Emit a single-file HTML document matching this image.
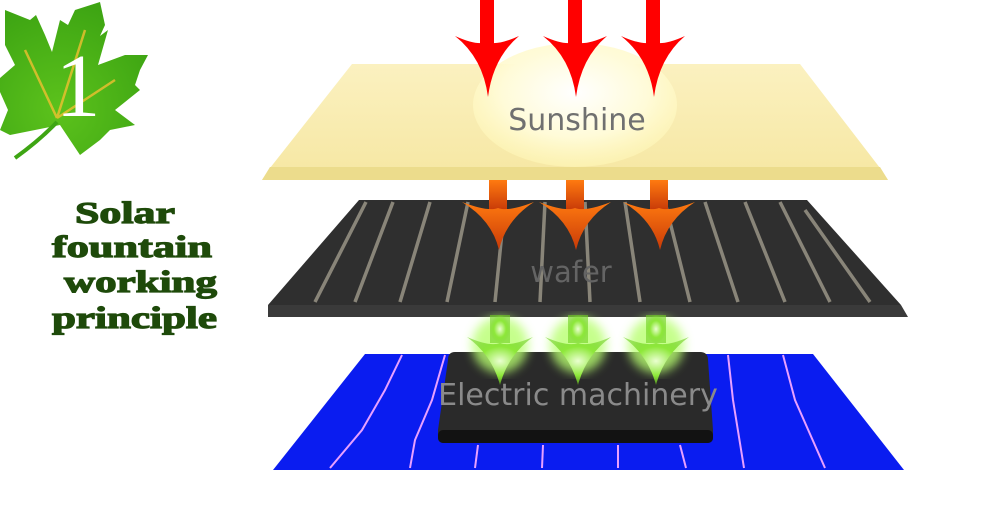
<!DOCTYPE html>
<html><head><meta charset="utf-8"><style>
html,body{margin:0;padding:0;background:#fff;}
svg{display:block}
</style></head><body>
<svg width="1000" height="512" viewBox="0 0 1000 512" xmlns="http://www.w3.org/2000/svg">
<defs>
<linearGradient id="yel" x1="0" y1="0" x2="0" y2="1"><stop offset="0" stop-color="#fbf1c0"/><stop offset="1" stop-color="#f6e7a2"/></linearGradient>
<radialGradient id="glow" cx="0.5" cy="0.4" r="0.6"><stop offset="0" stop-color="#ffffff"/><stop offset="0.6" stop-color="#fffbd8"/><stop offset="1" stop-color="#fff7b8" stop-opacity="0.6"/></radialGradient>
<linearGradient id="org" x1="0" y1="0" x2="0" y2="1"><stop offset="0" stop-color="#ff7a10"/><stop offset="1" stop-color="#c83a08"/></linearGradient>
<radialGradient id="grn" cx="0.5" cy="0.5" r="0.5"><stop offset="0" stop-color="#eaffd0"/><stop offset="0.6" stop-color="#8ee83a"/><stop offset="1" stop-color="#6fd020" stop-opacity="0.6"/></radialGradient>
<filter id="blur"><feGaussianBlur stdDeviation="5"/></filter>
<radialGradient id="leafg" cx="0.4" cy="0.7" r="0.7"><stop offset="0" stop-color="#5cc21c"/><stop offset="1" stop-color="#3ea513"/></radialGradient>
</defs>

<!-- leaf -->
<path d="M5,10 L30,20 L36,15 L45,35 L52,52 L60,20 L68,25 L75,10 L100,2 L105,25 L100,36 L108,30 L98,65 L125,55 L148,55 L140,70 L135,85 L140,90 L115,110 L135,125 L110,130 L100,140 L80,155 L60,125 L35,130 L10,135 L0,130 L8,110 L0,92 L0,78 L15,65 L5,45 Z" fill="url(#leafg)"/>
<path d="M57,122 Q40,140 15,158" stroke="#3ea513" stroke-width="4" fill="none"/>
<path d="M57,118 L25,50 M57,118 L85,30 M57,118 L115,80" stroke="#f0c030" stroke-width="2.5" opacity="0.8"/>
<text x="78" y="116" text-anchor="middle" font-family="Liberation Serif, serif" font-size="90" fill="#fff">1</text>

<!-- left title -->
<g font-family="Liberation Serif, serif" font-weight="bold" font-size="31" fill="#1e4a0a" stroke="#1e4a0a" stroke-width="1.2">
<text x="75" y="223" textLength="100" lengthAdjust="spacingAndGlyphs">Solar</text>
<text x="52" y="257" textLength="160" lengthAdjust="spacingAndGlyphs">fountain</text>
<text x="64" y="292" textLength="153" lengthAdjust="spacingAndGlyphs">working</text>
<text x="52" y="328" textLength="165" lengthAdjust="spacingAndGlyphs">principle</text>
</g>

<!-- yellow panel -->
<polygon points="352,64 800,64 880,168 888,180 262,180 270,168" fill="url(#yel)"/>
<polygon points="270,167 880,167 888,180 262,180" fill="#ecdc8c"/>
<ellipse cx="575" cy="105" rx="102" ry="62" fill="url(#glow)"/>
<text x="577" y="130" text-anchor="middle" font-family="DejaVu Sans, sans-serif" font-size="30" fill="#707070">Sunshine</text>

<!-- red arrows -->
<g fill="#ff0000">
<g transform="translate(487,0)"><rect x="-7" y="0" width="14" height="45"/><path d="M-32,36 Q-10,46 0,42 Q10,46 32,36 Q6,58 1,97 Q-4,58 -32,36 Z"/></g>
<g transform="translate(575,0)"><rect x="-7" y="0" width="14" height="45"/><path d="M-32,36 Q-10,46 0,42 Q10,46 32,36 Q6,58 1,97 Q-4,58 -32,36 Z"/></g>
<g transform="translate(653,0)"><rect x="-7" y="0" width="14" height="45"/><path d="M-32,36 Q-10,46 0,42 Q10,46 32,36 Q6,58 1,97 Q-4,58 -32,36 Z"/></g>
</g>

<!-- dark wafer -->
<polygon points="359,200 807,200 901,305 268,305" fill="#2f2f2f"/>
<polygon points="268,305 901,305 908,317 268,317" fill="#3a3a3a"/>
<g stroke="#a8a292" stroke-width="3.5" opacity="0.75">
<line x1="366" y1="202" x2="315" y2="302"/><line x1="393" y1="202" x2="355" y2="302"/>
<line x1="430" y1="202" x2="400" y2="302"/><line x1="468" y1="202" x2="447" y2="302"/>
<line x1="505" y1="202" x2="495" y2="302"/><line x1="545" y1="202" x2="540" y2="302"/>
<line x1="585" y1="202" x2="590" y2="302"/><line x1="625" y1="202" x2="640" y2="302"/>
<line x1="665" y1="202" x2="690" y2="302"/><line x1="705" y1="202" x2="738" y2="302"/>
<line x1="745" y1="202" x2="785" y2="302"/><line x1="780" y1="202" x2="830" y2="302"/>
<line x1="805" y1="210" x2="870" y2="302"/>
</g>
<text x="571" y="282" text-anchor="middle" font-family="DejaVu Sans, sans-serif" font-size="29" fill="#646464">wafer</text>

<!-- orange arrows -->
<g fill="url(#org)">
<g transform="translate(498,180)"><rect x="-9" y="0" width="18" height="30"/><path d="M-36,22 Q-10,32 0,28 Q10,32 36,22 Q8,40 1,70 Q-6,40 -36,22 Z"/></g>
<g transform="translate(575,180)"><rect x="-9" y="0" width="18" height="30"/><path d="M-36,22 Q-10,32 0,28 Q10,32 36,22 Q8,40 1,70 Q-6,40 -36,22 Z"/></g>
<g transform="translate(659,180)"><rect x="-9" y="0" width="18" height="30"/><path d="M-36,22 Q-10,32 0,28 Q10,32 36,22 Q8,40 1,70 Q-6,40 -36,22 Z"/></g>
</g>

<!-- blue panel -->
<polygon points="365,354 813,354 904,470 273,470" fill="#0a1cf0"/>
<g stroke="#e8a0ff" stroke-width="2" fill="none">
<path d="M402,355 L385,390 L362,430 L330,468"/>
<path d="M445,355 L432,400 L415,440 L410,468"/>
<path d="M478,445 L475,468"/><path d="M543,445 L542,468"/>
<path d="M618,445 L618,468"/><path d="M680,445 L686,468"/>
<path d="M728,355 L733,400 L744,468"/>
<path d="M783,355 L795,400 L825,468"/>
</g>

<!-- motor box -->
<path d="M455,352 L700,352 Q708,352 708,360 L713,430 L713,437 Q713,443 707,443 L444,443 Q438,443 438,437 L438,430 L448,360 Q448,352 455,352 Z" fill="#2a2a2a"/>
<rect x="438" y="430" width="275" height="13" rx="5" fill="#121212"/>

<!-- green arrows -->
<g filter="url(#blur)" fill="#b8ff70" opacity="0.8">
<circle cx="500" cy="345" r="28"/><circle cx="578" cy="345" r="28"/><circle cx="656" cy="345" r="28"/>
</g>
<g fill="url(#grn)">
<g transform="translate(500,315)"><rect x="-10" y="0" width="20" height="28"/><path d="M-33,22 Q-10,32 0,28 Q10,32 33,22 Q8,40 0,70 Q-8,40 -33,22 Z"/></g>
<g transform="translate(578,315)"><rect x="-10" y="0" width="20" height="28"/><path d="M-33,22 Q-10,32 0,28 Q10,32 33,22 Q8,40 0,70 Q-8,40 -33,22 Z"/></g>
<g transform="translate(656,315)"><rect x="-10" y="0" width="20" height="28"/><path d="M-33,22 Q-10,32 0,28 Q10,32 33,22 Q8,40 0,70 Q-8,40 -33,22 Z"/></g>
</g>
<text x="578" y="405" text-anchor="middle" font-family="DejaVu Sans, sans-serif" font-size="30" fill="#8a8a8a">Electric machinery</text>
</svg>
</body></html>
